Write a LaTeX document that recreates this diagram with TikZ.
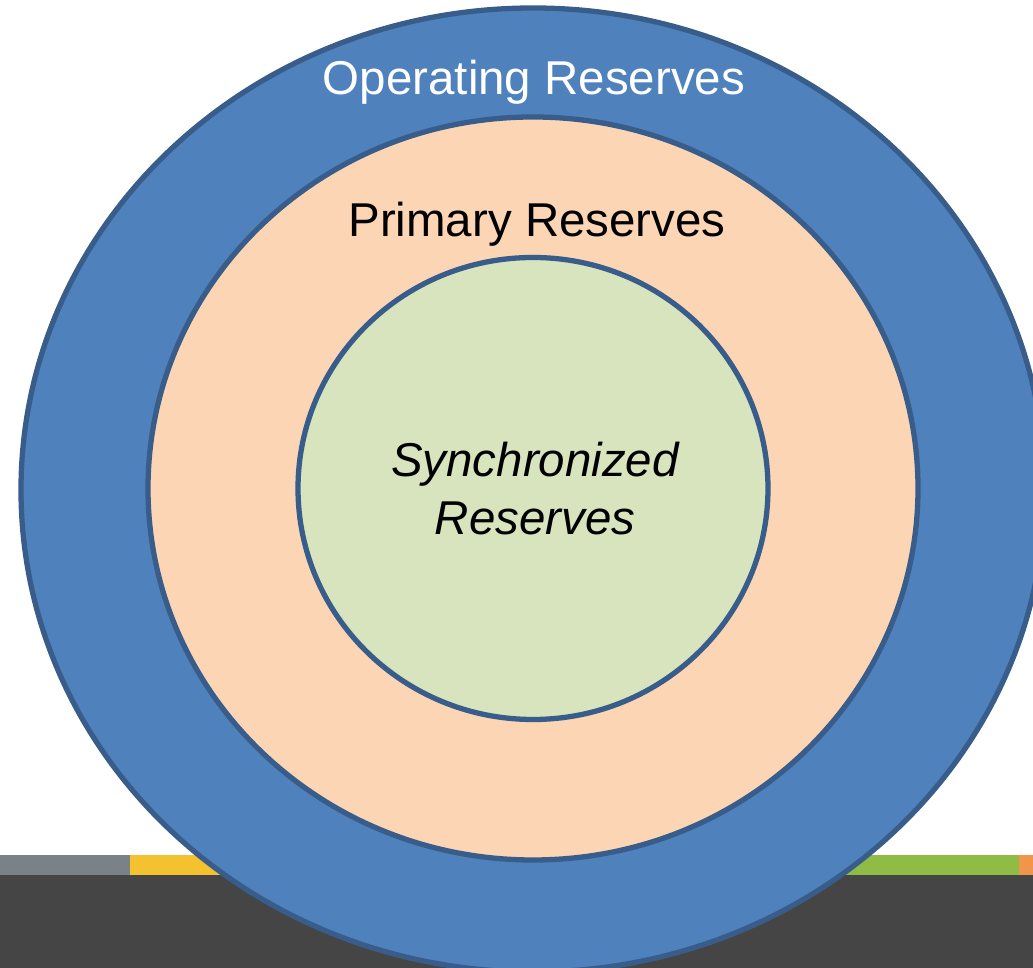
\documentclass[tikz,border=0pt]{standalone}
\usepackage{fontspec}
\setmainfont{Liberation Sans}
\usepackage{tikz}
\definecolor{ringblue}{HTML}{4F81BD}
\definecolor{ringedge}{HTML}{385D8A}
\definecolor{peach}{HTML}{FCD5B5}
\definecolor{sage}{HTML}{D7E4BD}
\definecolor{bargray}{HTML}{7A8288}
\definecolor{baryellow}{HTML}{F4C12F}
\definecolor{bargreen}{HTML}{8FBC45}
\definecolor{barorange}{HTML}{F0954A}
\definecolor{bardark}{HTML}{454545}
\tikzset{
  ring/.style={draw=ringedge, line width=1.5pt},
  label/.style={anchor=base, inner sep=0pt, font=\fontsize{13.5}{16}\selectfont}
}

\begin{document}
\begin{tikzpicture}[x=0.01cm, y=-0.01cm]
			%%%%% START %%%%%
			\useasboundingbox (0, 0) rectangle (1033, 968);
			\clip (0, 0) rectangle (1033, 968);
			
			% bottom bar
			\fill[bardark] (0, 875) rectangle (1033, 968);
			\fill[bargray] (0, 855) rectangle (130, 875);
			\fill[baryellow] (130, 855) rectangle (533, 875);
			\fill[bargreen] (533, 855) rectangle (1019, 875);
			\fill[barorange] (1019, 855) rectangle (1033, 875);
			
			% rings
			\draw[ring, fill=ringblue] (533, 490) ellipse (512 and 482);
			\draw[ring, fill=peach] (533, 488.5) ellipse (385 and 371.5);
			\draw[ring, fill=sage] (533, 488.5) ellipse (235 and 231);
			
			% labels
			\node[label, text=white] (operating) at (534, 95) {Operating Reserves};
			\node[label] (primary) at (537, 237) {Primary Reserves};
			\node[label, font=\fontsize{13.5}{16}\selectfont\itshape] (sync) at (535, 477) {Synchronized};
			\node[label, font=\fontsize{13.5}{16}\selectfont\itshape] (syncres) at (535, 535) {Reserves};
			
			%%%%% END %%%%%
\end{tikzpicture}
\end{document}
